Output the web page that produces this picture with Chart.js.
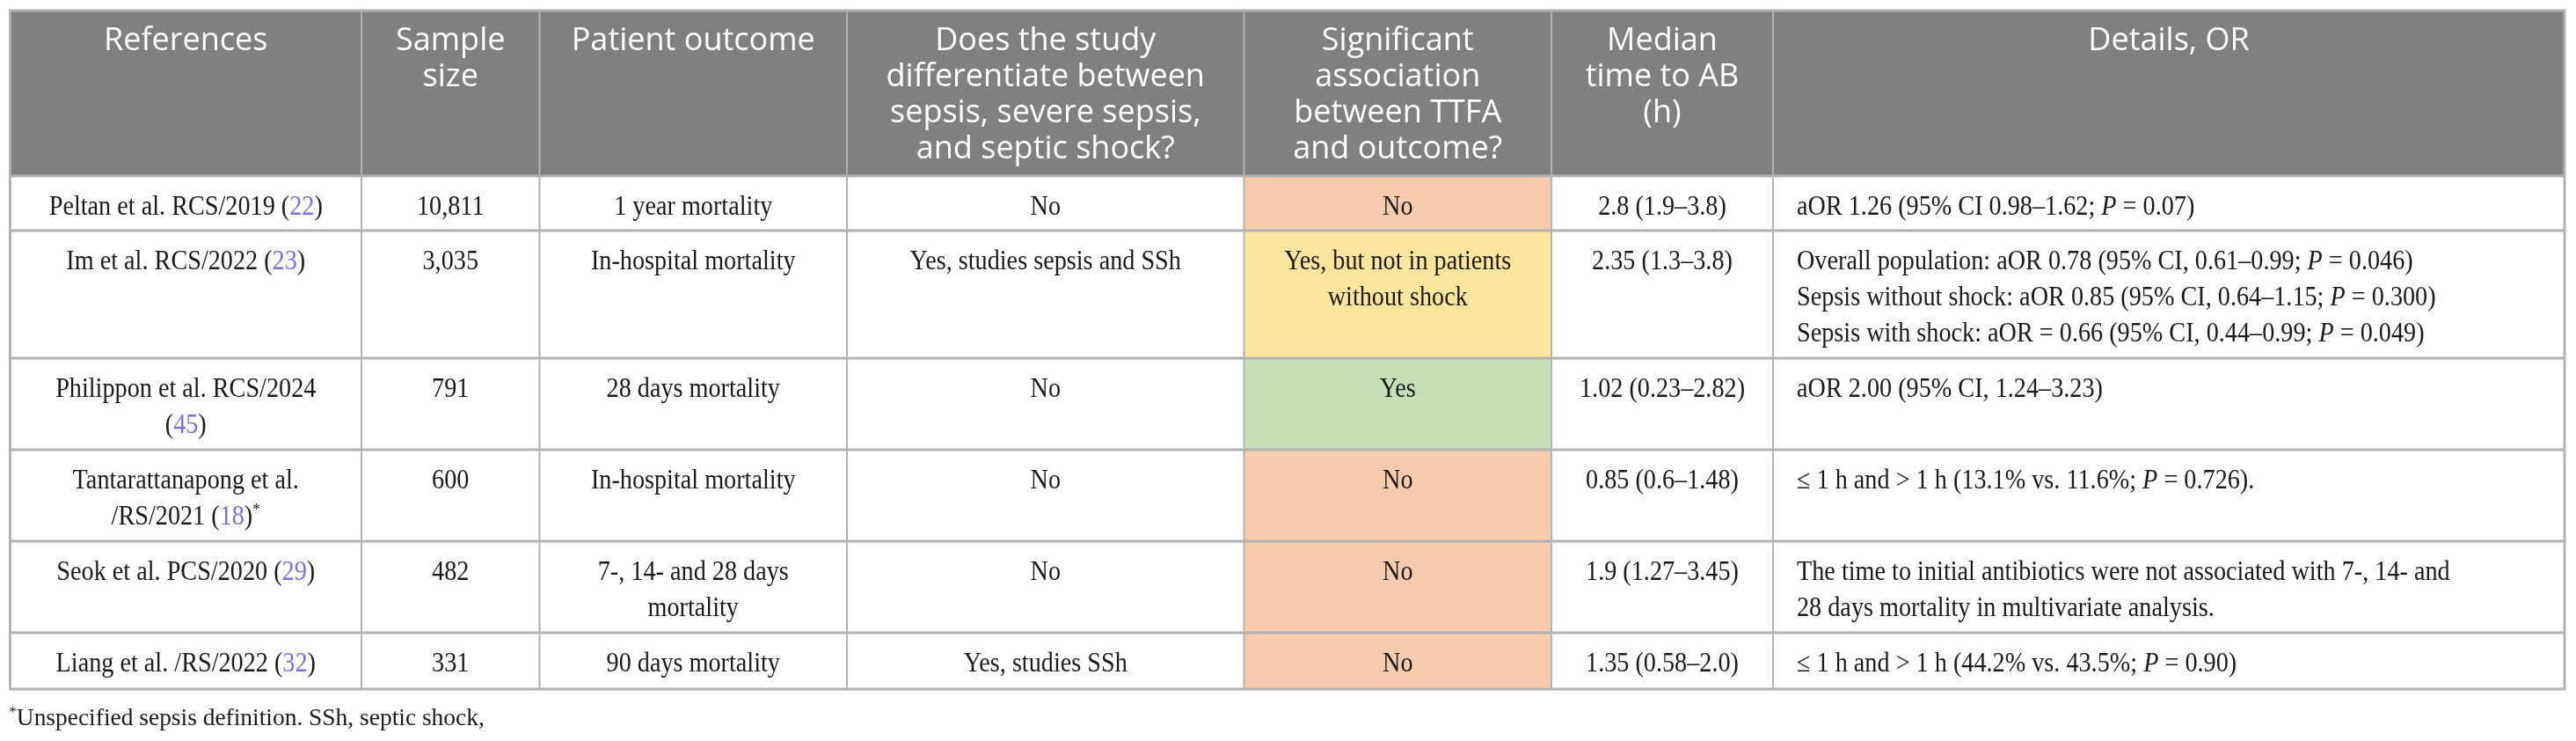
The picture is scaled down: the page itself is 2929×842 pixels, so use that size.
<!DOCTYPE html>
<html>
<head>
<meta charset="utf-8">
<script src="https://cdn.jsdelivr.net/npm/chart.js@4.4.1/dist/chart.umd.min.js"></script>
<style>
    html, body { margin: 0; padding: 0; background: #ffffff; }
    #marco { width: 2929px; height: 842px; }
</style>
</head>
<body>
<div id="marco"><canvas id="tabla" width="2929" height="842"></canvas></div>
<script>
/* ==========================================================
   DATOS DE LA TABLA
   [..] = referencia (enlace), _.._ = cursiva, ^..^ = superíndice
========================================================== */
const headers = [
    "References",
    "Sample\nsize",
    "Patient outcome",
    "Does the study\ndifferentiate between\nsepsis, severe sepsis,\nand septic shock?",
    "Significant\nassociation\nbetween TTFA\nand outcome?",
    "Median\ntime to AB\n(h)",
    "Details, OR"
];

const references = [
    "Peltan et al. RCS/2019 ([22])",
    "Im et al. RCS/2022 ([23])",
    "Philippon et al. RCS/2024\n([45])",
    "Tantarattanapong et al.\n/RS/2021 ([18])^*^",
    "Seok et al. PCS/2020 ([29])",
    "Liang et al. /RS/2022 ([32])"
];

const sampleSizes = ["10,811", "3,035", "791", "600", "482", "331"];

const outcomes = [
    "1 year mortality",
    "In-hospital mortality",
    "28 days mortality",
    "In-hospital mortality",
    "7-, 14- and 28 days\nmortality",
    "90 days mortality"
];

const differentiates = [
    "No",
    "Yes, studies sepsis and SSh",
    "No",
    "No",
    "No",
    "Yes, studies SSh"
];

const significance = [
    "No",
    "Yes, but not in patients\nwithout shock",
    "Yes",
    "No",
    "No",
    "No"
];

const sigLevel = ["no", "partial", "yes", "no", "no", "no"];

const medianTimes = [
    "2.8 (1.9–3.8)",
    "2.35 (1.3–3.8)",
    "1.02 (0.23–2.82)",
    "0.85 (0.6–1.48)",
    "1.9 (1.27–3.45)",
    "1.35 (0.58–2.0)"
];

const details = [
    "aOR 1.26 (95% CI 0.98–1.62; _P_ = 0.07)",
    "Overall population: aOR 0.78 (95% CI, 0.61–0.99; _P_ = 0.046)\nSepsis without shock: aOR 0.85 (95% CI, 0.64–1.15; _P_ = 0.300)\nSepsis with shock: aOR = 0.66 (95% CI, 0.44–0.99; _P_ = 0.049)",
    "aOR 2.00 (95% CI, 1.24–3.23)",
    "≤ 1 h and > 1 h (13.1% vs. 11.6%; _P_ = 0.726).",
    "The time to initial antibiotics were not associated with 7-, 14- and\n28 days mortality in multivariate analysis.",
    "≤ 1 h and > 1 h (44.2% vs. 43.5%; _P_ = 0.90)"
];

const footnote = "^*^Unspecified sepsis definition. SSh, septic shock,";

/* ==========================================================
   MAQUETA Y ESTILO
========================================================== */
const ANCHO = 2929, ALTO = 842;

const tablaIzq = 11.5, tablaArriba = 12;
const colWidths = [399.5, 202.5, 349.5, 451.5, 349.5, 252, 900];
const rowHeights = [188, 62, 145, 104, 104, 104, 64];

const colEdges = acumular(tablaIzq, colWidths);
const rowEdges = acumular(tablaArriba, rowHeights);

const colores = {
    cabecera: "#808080",
    celda: "#ffffff",
    linea: "#b2b2b2",
    texto: "#1a1a1a",
    enlace: "#7a6fe2",
    no: "#f8cbad",
    partial: "#fde69b",
    yes: "#c5e0b4"
};

const estiloCabecera = {
    familia: '"Open Sans", "Noto Sans", sans-serif',
    size: 36, sx: 1, color: "#ffffff",
    primeraBase: 45, paso: 41
};

const estiloCuerpo = {
    familia: '"Liberation Serif", "DejaVu Serif", serif',
    size: 31, sx: 0.91, color: colores.texto,
    primeraBase: 44, paso: 41
};

const estiloNota = {
    familia: '"Liberation Serif", "DejaVu Serif", serif',
    size: 28, sx: 0.98, color: colores.texto
};

const columnas = [
    references, sampleSizes, outcomes, differentiates,
    significance, medianTimes, details
];

const alineacion = ["center", "center", "center", "center", "center", "center", "left"];
const sangriaIzq = 27;

/* ========================================================== */
function acumular(inicio, medidas) {
    const out = [inicio];
    medidas.forEach(m => out.push(out[out.length - 1] + m));
    return out;
}

function colorCelda(c, r) {
    if (r === 0) return colores.cabecera;
    if (c === 4) return colores[sigLevel[r - 1]];
    return colores.celda;
}

function trozos(linea) {
    const out = [];
    const re = /\[([^\]]+)\]|_([^_]+)_|\^([^\^]+)\^|([^\[_\^]+)/g;
    let m;
    while ((m = re.exec(linea))) {
        if (m[1]) out.push({ t: m[1], k: "link" });
        else if (m[2]) out.push({ t: m[2], k: "ital" });
        else if (m[3]) out.push({ t: m[3], k: "sup" });
        else out.push({ t: m[4], k: "txt" });
    }
    return out;
}

function fuente(k, e) {
    if (k === "ital") return `italic ${e.size}px ${e.familia}`;
    if (k === "sup") return `${Math.round(e.size * 0.62)}px ${e.familia}`;
    return `${e.size}px ${e.familia}`;
}

function pintarLinea(ctx, linea, x, base, align, e) {
    const runs = trozos(linea);
    let w = 0;
    runs.forEach(r => {
        ctx.font = fuente(r.k, e);
        r.w = ctx.measureText(r.t).width;
        w += r.w;
    });
    const x0 = align === "center" ? x - (w * e.sx) / 2 : x;
    ctx.save();
    ctx.translate(x0, base);
    ctx.scale(e.sx, 1);
    ctx.textAlign = "left";
    ctx.textBaseline = "alphabetic";
    let cx = 0;
    runs.forEach(r => {
        ctx.font = fuente(r.k, e);
        ctx.fillStyle = r.k === "link" ? colores.enlace : e.color;
        ctx.fillText(r.t, cx, r.k === "sup" ? -e.size * 0.36 : 0);
        cx += r.w;
    });
    ctx.restore();
}

/* ==========================================================
   PLUGIN: LÍNEAS DE LA TABLA
========================================================== */
const lineasTabla = {
    id: "lineasTabla",
    afterDatasetsDraw(chart) {
        const { ctx } = chart;
        const sx = chart.scales.x, sy = chart.scales.y;
        const px = v => sx.getPixelForValue(v);
        const py = v => sy.getPixelForValue(v);
        const y0 = py(rowEdges[0]), y1 = py(rowEdges[rowEdges.length - 1]);
        const x0 = px(colEdges[0]), x1 = px(colEdges[colEdges.length - 1]);

        ctx.save();
        ctx.strokeStyle = colores.linea;

        ctx.lineWidth = 2;
        for (let c = 1; c < colEdges.length - 1; c++) {
            ctx.beginPath();
            ctx.moveTo(px(colEdges[c]), y0);
            ctx.lineTo(px(colEdges[c]), y1);
            ctx.stroke();
        }

        ctx.lineWidth = 3;
        for (let r = 1; r < rowEdges.length - 1; r++) {
            ctx.beginPath();
            ctx.moveTo(x0, py(rowEdges[r]));
            ctx.lineTo(x1, py(rowEdges[r]));
            ctx.stroke();
        }

        ctx.lineWidth = 3;
        ctx.strokeRect(x0, y0, x1 - x0, y1 - y0);
        ctx.restore();
    }
};

/* ==========================================================
   PLUGIN: TEXTOS
========================================================== */
const textosTabla = {
    id: "textosTabla",
    afterDraw(chart) {
        const { ctx } = chart;
        const sx = chart.scales.x, sy = chart.scales.y;
        const px = v => sx.getPixelForValue(v);
        const py = v => sy.getPixelForValue(v);

        headers.forEach((h, c) => {
            const cx = px((colEdges[c] + colEdges[c + 1]) / 2);
            h.split("\n").forEach((l, i) => {
                const base = py(rowEdges[0] + estiloCabecera.primeraBase + i * estiloCabecera.paso);
                pintarLinea(ctx, l, cx, base, "center", estiloCabecera);
            });
        });

        columnas.forEach((col, c) => {
            const align = alineacion[c];
            const x = align === "center"
                ? px((colEdges[c] + colEdges[c + 1]) / 2)
                : px(colEdges[c] + sangriaIzq);
            col.forEach((txt, r) => {
                txt.split("\n").forEach((l, i) => {
                    const base = py(rowEdges[r + 1] + estiloCuerpo.primeraBase + i * estiloCuerpo.paso);
                    pintarLinea(ctx, l, x, base, align, estiloCuerpo);
                });
            });
        });

        pintarLinea(ctx, footnote, px(tablaIzq - 1), py(rowEdges[rowEdges.length - 1] + 41), "left", estiloNota);
    }
};

/* ==========================================================
   GRÁFICA (celdas como barras flotantes)
========================================================== */
const datasets = colWidths.map((w, c) => ({
    type: "bar",
    label: headers[c].replace(/\n/g, " "),
    data: rowHeights.map((h, r) => ({
        x: (colEdges[c] + colEdges[c + 1]) / 2,
        y: [rowEdges[r], rowEdges[r + 1]]
    })),
    barThickness: w,
    grouped: true,
    stack: "celdas",
    backgroundColor: ctx => colorCelda(c, ctx.dataIndex),
    borderWidth: 0,
    borderSkipped: false
}));

new Chart(document.getElementById("tabla"), {
    type: "bar",
    data: { datasets },
    options: {
        responsive: false,
        animation: false,
        events: [],
        layout: { padding: 0 },
        plugins: {
            legend: { display: false },
            tooltip: { enabled: false },
            title: { display: false }
        },
        scales: {
            x: {
                type: "linear", min: 0, max: ANCHO,
                offset: false, display: false
            },
            y: {
                type: "linear", min: 0, max: ALTO,
                reverse: true, stacked: false, display: false
            }
        }
    },
    plugins: [lineasTabla, textosTabla]
});
</script>
</body>
</html>
